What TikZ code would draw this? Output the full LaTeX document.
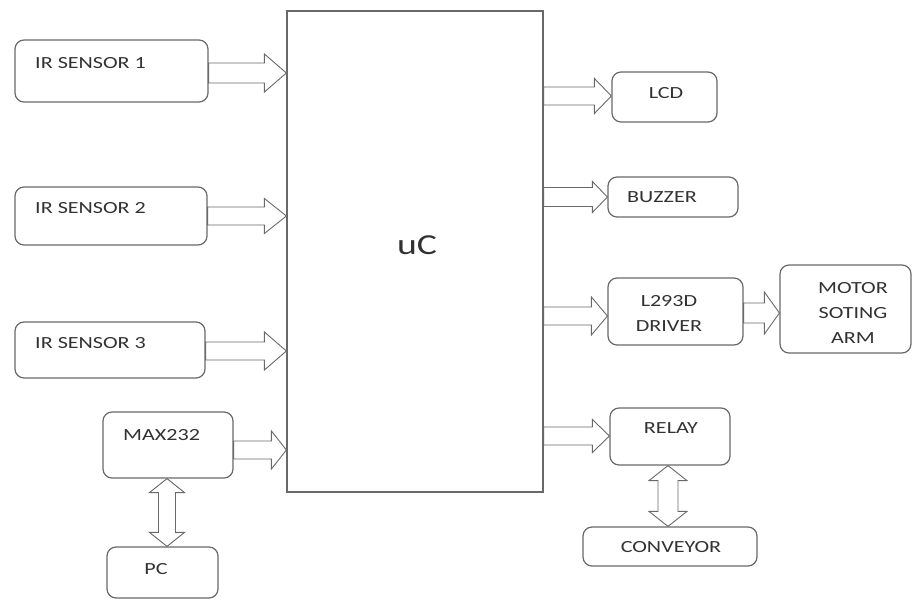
\documentclass[tikz,border=0pt]{standalone}
\usepackage{fontspec}
\setmainfont{Carlito}[FakeStretch=1.3]
\usetikzlibrary{calc}
\definecolor{ln}{RGB}{105,105,105}
\definecolor{tx}{RGB}{50,50,50}
\tikzset{
  box/.style={draw=ln, line width=1.2pt, rounded corners=9pt, fill=white, inner sep=0pt},
  ucbox/.style={draw=ln, line width=1.2pt, inner sep=0pt},
  lbl/.style={text=tx, inner sep=0pt, font=\fontsize{17}{25}\selectfont},
  blk/.style={draw=ln, line width=0.9pt, fill=white, line join=miter}
}
% #1 from anchor, #2 to anchor, #3 y, #4 half shaft, #5 half head, #6 head length
\newcommand\harr[6]{%
  \draw[blk] let \p1=(#1), \p2=(#2) in
    ({\x1},{-(#3-#4)*1pt}) -- ({\x2-#6*1pt},{-(#3-#4)*1pt}) -- ({\x2-#6*1pt},{-(#3-#5)*1pt})
    -- ({\x2},{-#3*1pt}) -- ({\x2-#6*1pt},{-(#3+#5)*1pt}) -- ({\x2-#6*1pt},{-(#3+#4)*1pt})
    -- ({\x1},{-(#3+#4)*1pt}) -- cycle;}
% #1 top anchor, #2 bottom anchor, #3 x, #4 half shaft, #5 half head, #6 head length
\newcommand\varr[6]{%
  \draw[blk] let \p1=(#1), \p2=(#2) in
    ({#3*1pt},{\y1}) -- ({(#3+#5)*1pt},{\y1-#6*1pt}) -- ({(#3+#4)*1pt},{\y1-#6*1pt})
    -- ({(#3+#4)*1pt},{\y2+#6*1pt}) -- ({(#3+#5)*1pt},{\y2+#6*1pt}) -- ({#3*1pt},{\y2})
    -- ({(#3-#5)*1pt},{\y2+#6*1pt}) -- ({(#3-#4)*1pt},{\y2+#6*1pt})
    -- ({(#3-#4)*1pt},{\y1-#6*1pt}) -- ({(#3-#5)*1pt},{\y1-#6*1pt}) -- cycle;}
\begin{document}
\begin{tikzpicture}[x=1pt,y=-1pt]
\useasboundingbox[fill=white] (0,0) rectangle (913,599);
% boxes
\node[ucbox, minimum width=256pt, minimum height=481pt] (uc) at (415,251.5) {};
\node[box, minimum width=193pt, minimum height=62pt] (ir1) at (111.5,71) {};
\node[box, minimum width=192pt, minimum height=58pt] (ir2) at (111,216) {};
\node[box, minimum width=190pt, minimum height=56pt] (ir3) at (110,350) {};
\node[box, minimum width=130pt, minimum height=66pt] (max) at (168,445) {};
\node[box, minimum width=111pt, minimum height=51pt] (pc) at (162.5,572.5) {};
\node[box, minimum width=105pt, minimum height=50pt] (lcd) at (664.5,97) {};
\node[box, minimum width=130pt, minimum height=40pt] (buz) at (673,197) {};
\node[box, minimum width=135pt, minimum height=67pt] (drv) at (675.5,311.5) {};
\node[box, minimum width=131pt, minimum height=88pt] (mot) at (845.5,309) {};
\node[box, minimum width=120pt, minimum height=57pt] (rel) at (670,436.5) {};
\node[box, minimum width=174pt, minimum height=39pt] (conv) at (670,546.5) {};
% labels
\node[lbl, font=\fontsize{29}{30}\selectfont] (uct) at (417,245) {uC};
\node[lbl, anchor=west] (ir1t) at (35,63) {IR SENSOR 1};
\node[lbl, anchor=west] (ir2t) at (35,208) {IR SENSOR 2};
\node[lbl, anchor=west] (ir3t) at (35,343) {IR SENSOR 3};
\node[lbl, anchor=west] (maxt) at (123,435) {MAX232};
\node[lbl] (pct) at (156,569) {PC};
\node[lbl] (lcdt) at (666,93) {LCD};
\node[lbl] (buzt) at (662,197) {BUZZER};
\node[lbl, align=center] (drvt) at (669,313) {L293D\\DRIVER};
\node[lbl, align=center] (mott) at (853,313) {MOTOR\\SOTING\\ARM};
\node[lbl] (relt) at (671,428) {RELAY};
\node[lbl] (convt) at (671,547) {CONVEYOR};
% arrows
\harr{ir1.east}{uc.west}{73}{10}{19}{22}
\harr{ir2.east}{uc.west}{216}{9}{17.5}{22}
\harr{ir3.east}{uc.west}{351}{9}{19}{22}
\harr{max.east}{uc.west}{450}{9}{19}{15}
\harr{uc.east}{lcd.west}{96}{9}{17.5}{17}
\harr{uc.east}{buz.west}{197}{9.5}{15.5}{15}
\harr{uc.east}{drv.west}{316}{9}{19}{16}
\harr{drv.east}{mot.west}{313}{10}{21}{15}
\harr{uc.east}{rel.west}{436}{9}{16.5}{17}
\varr{max.south}{pc.north}{167}{8.5}{17.5}{14}
\varr{rel.south}{conv.north}{668}{10}{19}{15}
\end{tikzpicture}
\end{document}
